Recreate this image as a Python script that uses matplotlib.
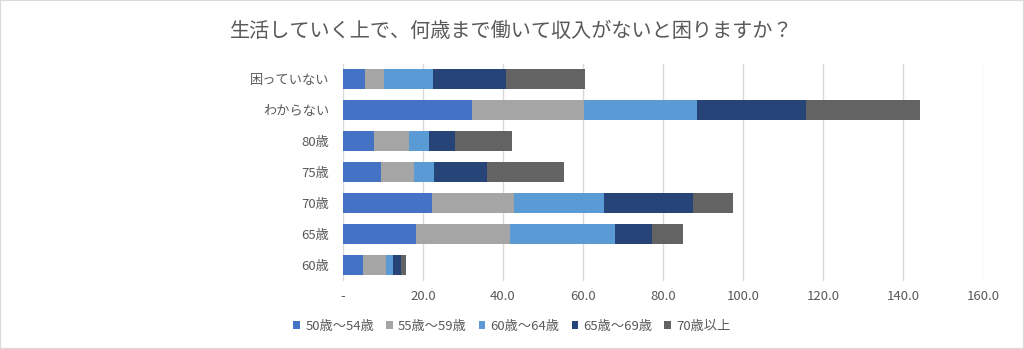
import numpy as np
import matplotlib.pyplot as plt
from matplotlib.patches import Rectangle

plt.rcParams['font.family'] = ['Noto Sans CJK JP', 'DejaVu Sans']

# 回答（上から順）
categories = ["困っていない", "わからない", "80歳", "75歳", "70歳", "65歳", "60歳"]
age_groups = ["50歳～54歳", "55歳～59歳", "60歳～64歳", "65歳～69歳", "70歳以上"]

age_50_54 = [5.5, 32.2, 7.8, 9.4, 22.2, 18.2, 5.1]
age_55_59 = [4.8, 28.1, 8.7, 8.4, 20.5, 23.5, 5.7]
age_60_64 = [12.3, 28.1, 4.9, 4.9, 22.6, 26.3, 1.6]
age_65_69 = [18.2, 27.4, 6.6, 13.4, 22.3, 9.3, 2.1]
age_70_up = [19.7, 28.5, 14.2, 19.1, 9.9, 7.7, 1.2]

colors = ["#4472C4", "#A5A5A5", "#5B9BD5", "#264478", "#636363"]
xticks = [0, 20, 40, 60, 80, 100, 120, 140, 160]

fig = plt.figure(figsize=(10.24, 3.49), dpi=100)
fig.patches.append(Rectangle((0, 0), 1, 1, transform=fig.transFigure,
                             fill=False, edgecolor="#D9D9D9", lw=1.5))

ax = fig.add_axes([0.335, 0.196, 0.625, 0.622])
y = np.arange(len(categories))
left = np.zeros(len(categories))
for name, vals, c in zip(age_groups, [age_50_54, age_55_59, age_60_64, age_65_69, age_70_up], colors):
    ax.barh(y, vals, left=left, height=0.65, color=c, label=name, zorder=3)
    left += np.array(vals)

ax.set_xlim(0, 160)
ax.set_ylim(len(categories) - 0.5, -0.5)
ax.set_yticks(y)
ax.set_yticklabels(categories)
ax.set_xticks(xticks)
ax.set_xticklabels(["-" if v == 0 else f"{v:.1f}" for v in xticks])
ax.grid(axis="x", color="#D9D9D9", lw=1, zorder=0)
for s in ax.spines.values():
    s.set_visible(False)
ax.tick_params(length=0, labelsize=9.5, colors="#595959", pad=7)
ax.tick_params(axis="y", pad=10)

fig.text(0.5, 0.91, "生活していく上で、何歳まで働いて収入がないと困りますか？",
         ha="center", va="center", fontsize=14.5, color="#595959")

fig.legend(loc="center", bbox_to_anchor=(0.5, 0.065), ncol=5, frameon=False,
           fontsize=9.5, handlelength=0.5, handleheight=0.5, handletextpad=0.4,
           columnspacing=0.9, labelcolor="#595959")

fig.savefig("out.png", dpi=100)
